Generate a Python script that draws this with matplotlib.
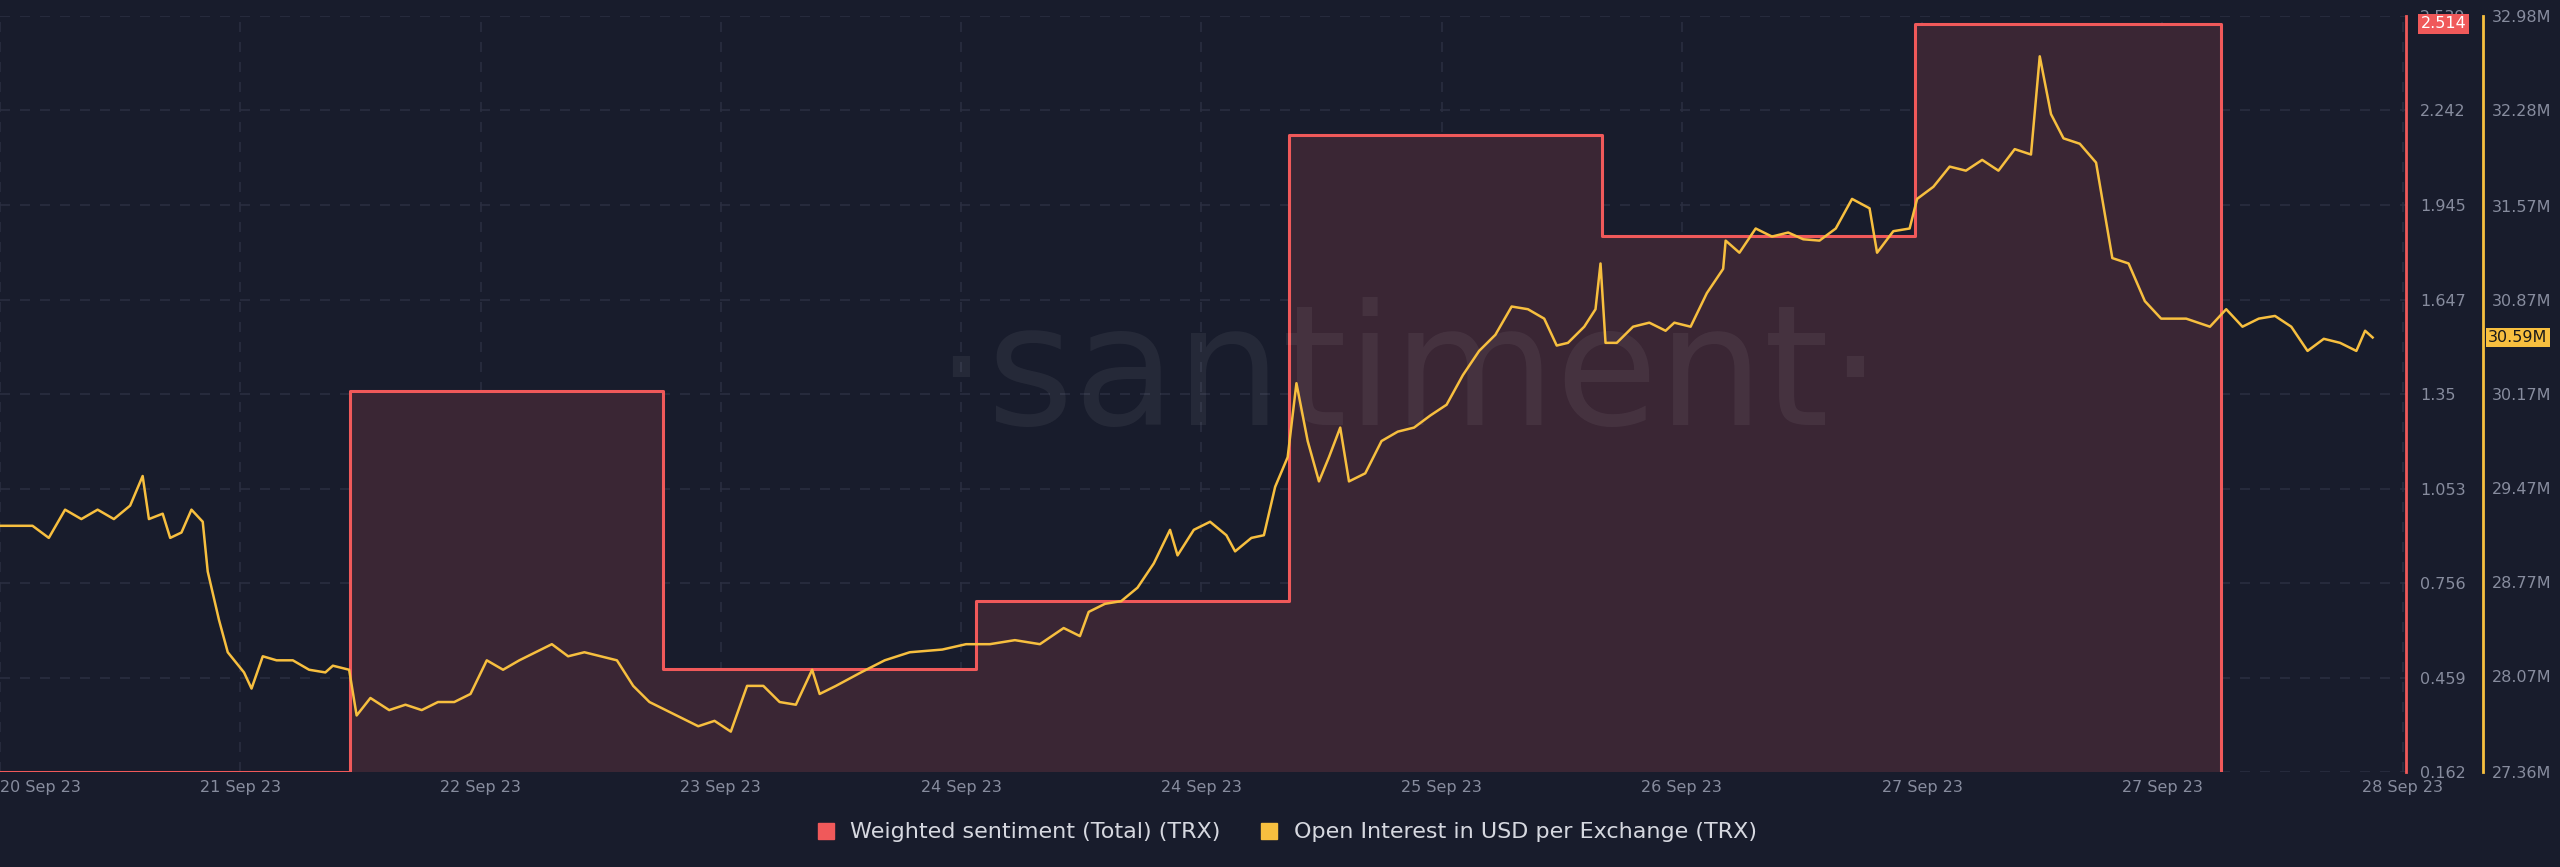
import matplotlib.pyplot as plt
import numpy as np

BG = "#181c2c"
FILL = "#3a2634"
RED = "#f0595a"
YEL = "#f7bf3f"
TXT = "#878c9e"
GRID = "#2a2e40"

# hours since start of chart
sent_edges = [0, 28, 53, 78, 103, 128, 153, 177.5]
sent_vals = [0.162, 1.36, 0.485, 0.70, 2.165, 1.848, 2.514]

oi_hours = [0, 2.6, 3.9, 5.2, 6.5, 7.8, 9.1, 10.4, 11.4, 11.9, 13, 13.6, 14.5, 15.3, 16.2, 16.6,
            17.5, 18.2, 19.5, 20.1, 21, 22.1, 23.4, 24.7, 26, 26.6, 27.9, 28.5, 29.6, 31.1, 32.4,
            33.7, 35, 36.3, 37.6, 38.9, 40.2, 41.5, 42.8, 44.1, 45.4, 46.7, 48, 49.3, 50.6, 51.9,
            53.2, 54.5, 55.8, 57.1, 58.4, 59.7, 61, 62.3, 63.6, 64.9, 65.5, 66.8, 68.8, 70.7, 72.7,
            75.3, 77.2, 79.1, 81.1, 83.1, 85, 86.3, 87, 88.3, 89.6, 90.9, 92.2, 93.5, 94.1, 95.4,
            96.7, 98, 98.7, 100, 101, 101.9, 102.9, 103.6, 104.5, 105.4, 106.2, 107.1, 107.8,
            109.1, 110.4, 111.7, 113, 114.3, 115.6, 116.9, 118.2, 119.5, 120.8, 122.1, 123.4,
            124.4, 125.3, 126.6, 127.5, 127.9, 128.3, 129.2, 130.5, 131.8, 133.1, 133.8, 135.1,
            136.4, 137.7, 137.9, 139, 140.3, 141.6, 142.9, 144.1, 145.4, 146.7, 148, 149.4, 150,
            151.3, 152.6, 153.2, 154.5, 155.8, 157.1, 158.4, 159.7, 161, 162.3, 163, 163.9, 164.9,
            166.2, 167.5, 168.8, 170.1, 171.4, 172.7, 174.7, 176.6, 177.9, 179.2, 180.5, 181.8,
            183.1, 184.4, 185.7, 187, 188.3, 189, 189.6]
oi_vals = [29.19, 29.19, 29.10, 29.31, 29.24, 29.31, 29.24, 29.34, 29.56, 29.24, 29.28, 29.10,
           29.14, 29.31, 29.22, 28.85, 28.49, 28.25, 28.10, 27.98, 28.22, 28.19, 28.19, 28.12,
           28.10, 28.15, 28.12, 27.78, 27.91, 27.82, 27.86, 27.82, 27.88, 27.88, 27.94, 28.19,
           28.12, 28.19, 28.25, 28.31, 28.22, 28.25, 28.22, 28.19, 28.00, 27.88, 27.82, 27.76,
           27.70, 27.74, 27.66, 28.00, 28.00, 27.88, 27.86, 28.12, 27.94, 28.00, 28.10, 28.19,
           28.25, 28.27, 28.31, 28.31, 28.34, 28.31, 28.43, 28.37, 28.55, 28.61, 28.63, 28.73,
           28.91, 29.16, 28.97, 29.16, 29.22, 29.12, 29.00, 29.10, 29.12, 29.48, 29.70, 30.25,
           29.82, 29.52, 29.70, 29.92, 29.52, 29.58, 29.82, 29.89, 29.92, 30.01, 30.09, 30.31,
           30.49, 30.61, 30.82, 30.80, 30.73, 30.53, 30.55, 30.67, 30.80, 31.14, 30.55, 30.55,
           30.67, 30.70, 30.64, 30.70, 30.67, 30.92, 31.10, 31.31, 31.22, 31.40, 31.34, 31.37,
           31.32, 31.31, 31.40, 31.62, 31.55, 31.22, 31.38, 31.40, 31.62, 31.71, 31.86, 31.83,
           31.91, 31.83, 31.99, 31.95, 32.68, 32.25, 32.07, 32.03, 31.89, 31.18, 31.14, 30.86,
           30.73, 30.73, 30.67, 30.80, 30.67, 30.73, 30.75, 30.67, 30.49, 30.58, 30.55, 30.49,
           30.64, 30.59]

tick_hours = [i * 19.2 for i in range(11)]
tick_labels = ["20 Sep 23", "21 Sep 23", "22 Sep 23", "23 Sep 23", "24 Sep 23", "24 Sep 23",
               "25 Sep 23", "26 Sep 23", "27 Sep 23", "27 Sep 23", "28 Sep 23"]
sent_ticks = [0.162, 0.459, 0.756, 1.053, 1.35, 1.647, 1.945, 2.242, 2.539]
sent_labels = ["0.162", "0.459", "0.756", "1.053", "1.35", "1.647", "1.945", "2.242", "2.539"]
oi_ticks = [27.36, 28.07, 28.77, 29.47, 30.17, 30.87, 31.57, 32.28, 32.98]

fig = plt.figure(figsize=(25.6, 8.67), dpi=100)
fig.patch.set_facecolor(BG)
ax = fig.add_axes([0.0, 0.1096, 0.94, 0.872])
ax.set_facecolor(BG)
ax2 = ax.twinx()

# sentiment step line + fill
sx = np.array(sent_edges)
sv = np.array(sent_vals + [sent_vals[-1]])
ax.fill_between(sx[1:], sv[1:], 0.162, step="post", color=FILL, lw=0, zorder=1)
ax.step(list(sx) + [sx[-1]], list(sv) + [0.162], where="post", color=RED, lw=2.2, zorder=3)
ax.set_ylim(0.162, 2.539)
ax.set_xlim(0, 192.3)

ax2.plot(oi_hours, oi_vals, color=YEL, lw=1.8, zorder=4)
ax2.set_ylim(27.36, 32.98)

ax.set_xticks(tick_hours)
ax.set_xticklabels(tick_labels)
ax.get_xticklabels()[0].set_ha("left")
ax.set_yticks(sent_ticks)
ax.set_yticklabels(sent_labels)
ax.yaxis.tick_right()
ax2.set_yticks(oi_ticks)
ax2.set_yticklabels([f"{v:.2f}M" for v in oi_ticks])
ax2.spines["right"].set_position(("axes", 1.032))

for a in (ax, ax2):
    a.tick_params(colors=TXT, labelsize=11.5, length=0, pad=10)
    for s in a.spines.values():
        s.set_visible(False)
ax.spines["right"].set_visible(True)
ax.spines["right"].set_color(RED)
ax.spines["right"].set_linewidth(2)
ax2.spines["right"].set_visible(True)
ax2.spines["right"].set_color(YEL)
ax2.spines["right"].set_linewidth(2)
ax.tick_params(axis="x", pad=6)
ax2.tick_params(axis="y", pad=6)
ax.grid(True, color=GRID, ls=(0, (6, 6)), lw=1.2)
ax.set_axisbelow(True)

ax2.text(0.585, 0.52, "·santiment·", transform=ax2.transAxes, fontsize=120, color="white",
         alpha=0.06, ha="center", va="center", zorder=0)

# value badges
ax.text(1.006, 2.514, "2.514", transform=ax.get_yaxis_transform(), color="white", fontsize=11.5,
        va="center", ha="left", zorder=10,
        bbox=dict(boxstyle="square,pad=0.15", fc=RED, ec="none"))
ax2.text(1.034, oi_vals[-1], f"{oi_vals[-1]:.2f}M", transform=ax2.get_yaxis_transform(),
         color="#1a1a1a", fontsize=11.5, va="center", ha="left", zorder=10,
         bbox=dict(boxstyle="square,pad=0.15", fc=YEL, ec="none"))

handles = [plt.Line2D([], [], marker="s", ls="", color=RED, markersize=11),
           plt.Line2D([], [], marker="s", ls="", color=YEL, markersize=11)]
fig.legend(handles, ["Weighted sentiment (Total) (TRX)", "Open Interest in USD per Exchange (TRX)"],
           loc="center", bbox_to_anchor=(0.5, 0.04), ncol=2, frameon=False, fontsize=16,
           labelcolor="#d6d8e0", handletextpad=0.1, columnspacing=1.2)

fig.savefig("out.png", dpi=100, facecolor=BG)
